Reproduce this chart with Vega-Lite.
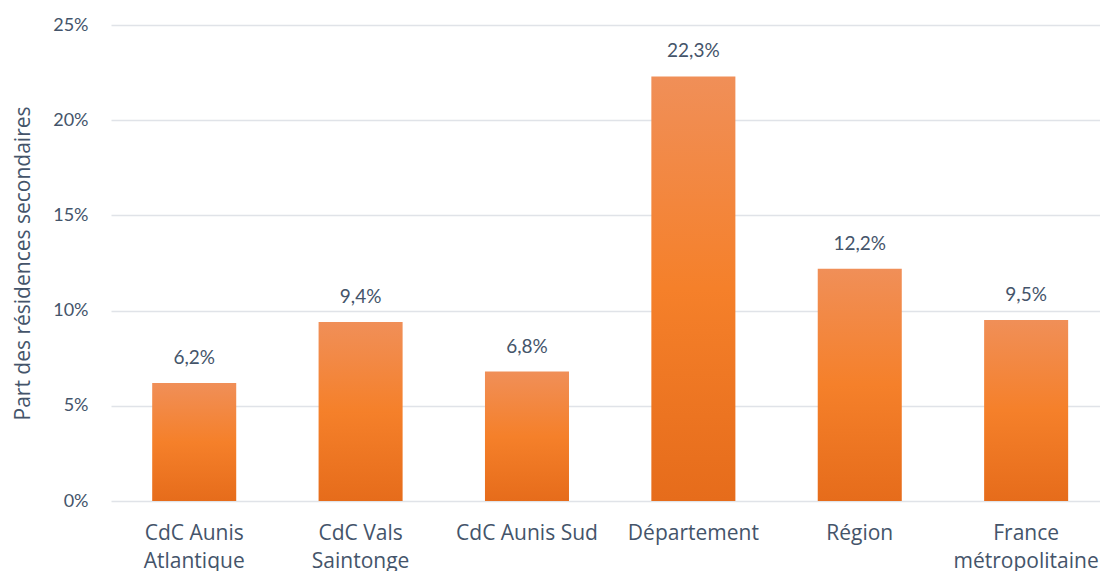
{
  "$schema": "https://vega.github.io/schema/vega-lite/v6.json",
  "autosize": "none",
  "padding": {"left": 111, "top": 25, "right": 0, "bottom": 70},
  "width": 989,
  "height": 476,
  "background": "white",
  "config": {
    "locale": {"number": {"decimal": ",", "thousands": " ", "grouping": [3], "currency": ["", " €"]}},
    "view": {"stroke": null},
    "font": "Lato"
  },
  "data": {
    "values": [
      {"territoire": "CdC Aunis\nAtlantique", "part": 0.062},
      {"territoire": "CdC Vals\nSaintonge", "part": 0.094},
      {"territoire": "CdC Aunis Sud", "part": 0.068},
      {"territoire": "Département", "part": 0.223},
      {"territoire": "Région", "part": 0.122},
      {"territoire": "France\nmétropolitaine", "part": 0.095}
    ]
  },
  "encoding": {
    "x": {
      "field": "territoire", "type": "nominal", "sort": null,
      "scale": {"paddingInner": 0.495, "paddingOuter": 0.2195, "align": 0.564},
      "axis": {
        "title": null, "labelAngle": 0, "ticks": false, "domain": false,
        "labelExpr": "split(datum.label, '\\n')",
        "labelFont": "Open Sans", "labelFontSize": 21, "labelColor": "#44546A",
        "labelLineHeight": 28, "labelPadding": 21, "labelBaseline": "top"
      }
    },
    "y": {
      "field": "part", "type": "quantitative",
      "scale": {"domain": [0, 0.25], "nice": false},
      "axis": {
        "title": "Part des résidences secondaires",
        "titleFont": "Open Sans", "titleFontSize": 21, "titleFontWeight": "normal", "titleColor": "#44546A",
        "titlePadding": 19,
        "format": ".0%", "values": [0, 0.05, 0.1, 0.15, 0.2, 0.25],
        "ticks": false, "domain": false,
        "labelFont": "Lato", "labelFontSize": 18, "labelColor": "#44546A", "labelPadding": 23,
        "gridColor": "#E0E3E8", "gridWidth": 1.5
      }
    }
  },
  "layer": [
    {
      "mark": {
        "type": "bar",
        "color": {
          "gradient": "linear", "x1": 0, "y1": 0, "x2": 0, "y2": 1,
          "stops": [
            {"offset": 0, "color": "#F08F58"},
            {"offset": 0.5, "color": "#F5802A"},
            {"offset": 1, "color": "#E66C1B"}
          ]
        }
      }
    },
    {
      "mark": {"type": "text", "baseline": "alphabetic", "dy": -19, "font": "Lato", "fontSize": 19, "color": "#44546A"},
      "encoding": {
        "text": {"field": "part", "type": "quantitative", "format": ".1%"}
      }
    }
  ]
}
